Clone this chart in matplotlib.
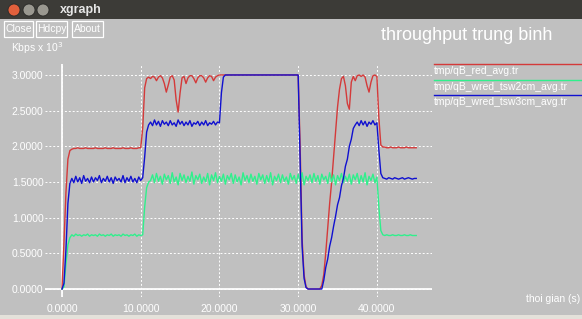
import matplotlib
matplotlib.use('Agg')
import matplotlib.pyplot as plt
from matplotlib.patches import Rectangle, Ellipse
from matplotlib.lines import Line2D

# time grid of the trace files (s), one sample every 0.25 s
time_s = [i * 0.25 for i in range(181)]

# throughput, Kbps x 10^3
red_avg = ([0.0, 0.65, 1.35, 1.82, 1.94]
           + [1.96, 1.97, 1.97, 1.98, 1.97, 1.97, 1.97, 1.98, 1.97, 1.97,
              1.97, 1.97, 1.98, 1.97, 1.97, 1.97, 1.97, 1.98, 1.97, 1.97,
              1.97, 1.98, 1.97, 1.97, 1.97, 1.97, 1.98, 1.97, 1.97, 1.97,
              1.98, 1.97, 1.97, 1.97, 1.98, 1.98]
           + [2.25, 2.82, 2.95, 2.97]
           + [2.95, 2.98, 2.97, 2.92, 2.97, 2.99, 2.96, 2.88, 2.76, 2.86,
              2.97, 2.99, 2.93, 2.65, 2.48, 2.75, 2.96, 2.98, 2.88, 2.96,
              2.99, 2.99, 2.95, 2.89, 2.96, 2.99, 2.99, 2.96, 2.90, 2.96,
              2.99, 2.98, 2.92, 2.97, 2.99, 3.00]
           + [3.0] * 40
           + [2.0, 0.7, 0.2, 0.03, 0.0, 0.0, 0.0, 0.0, 0.0, 0.0, 0.0, 0.05]
           + [0.2, 0.5, 0.85, 1.2, 1.5, 1.85, 2.2, 2.55, 2.8, 2.95,
              2.98, 2.85, 2.6, 2.52, 2.9, 2.98, 2.92, 2.99, 3.0, 2.98,
              3.0, 2.97, 2.85, 2.76, 2.9, 2.99, 3.0, 2.98, 2.4, 2.02,
              1.99]
           + [1.99, 1.98, 1.98, 1.99, 1.98, 1.98, 1.98, 1.99, 1.98, 1.98,
              1.98, 1.99, 1.98, 1.98, 1.98, 1.98, 1.98])

tsw2cm_avg = ([0.0, 0.03, 0.35, 0.62, 0.72]
              + [0.76, 0.74, 0.77, 0.75, 0.76, 0.74, 0.76, 0.75, 0.77, 0.74,
                 0.76, 0.75, 0.76, 0.74, 0.77, 0.75, 0.76, 0.74, 0.76, 0.75,
                 0.77, 0.74, 0.76, 0.75, 0.76, 0.74, 0.77, 0.75, 0.76, 0.74,
                 0.76, 0.75, 0.77, 0.74, 0.76, 0.75, 0.76]
              + [1.15, 1.42, 1.50]
              + [1.52, 1.60, 1.49, 1.62, 1.51, 1.58, 1.47, 1.61, 1.53, 1.59,
                 1.48, 1.63, 1.50, 1.57, 1.46, 1.62, 1.52, 1.60, 1.49, 1.58,
                 1.51, 1.64, 1.47, 1.59, 1.53, 1.61, 1.48, 1.57, 1.50, 1.62,
                 1.46, 1.60, 1.52, 1.63, 1.49, 1.58, 1.51, 1.61, 1.47, 1.59,
                 1.53, 1.62, 1.48, 1.60, 1.50, 1.57, 1.46, 1.63, 1.52, 1.59,
                 1.49, 1.61, 1.51, 1.58, 1.47, 1.62, 1.53, 1.60, 1.48, 1.59,
                 1.50, 1.63, 1.46, 1.58, 1.52, 1.61, 1.49, 1.60, 1.51, 1.57,
                 1.47, 1.62, 1.53, 1.59, 1.48, 1.61, 1.50, 1.63, 1.46, 1.58,
                 1.52, 1.60, 1.49, 1.62, 1.51, 1.59, 1.47, 1.61, 1.53, 1.58,
                 1.48, 1.63, 1.50, 1.60, 1.46, 1.59, 1.52, 1.62, 1.49, 1.58,
                 1.51, 1.61, 1.47, 1.60, 1.53, 1.62, 1.48, 1.59, 1.50, 1.63,
                 1.46, 1.58, 1.52, 1.61, 1.49, 1.57]
              + [1.15, 0.82, 0.76]
              + [0.75, 0.76, 0.75, 0.75, 0.76, 0.75, 0.75, 0.76, 0.75, 0.75,
                 0.76, 0.75, 0.75, 0.76, 0.75, 0.75, 0.75])

tsw3cm_avg = ([0.0, 0.08, 0.55, 1.2, 1.48]
              + [1.55, 1.49, 1.58, 1.50, 1.56, 1.48, 1.59, 1.51, 1.55, 1.49,
                 1.57, 1.50, 1.56, 1.52, 1.59, 1.49, 1.55, 1.51, 1.58, 1.50,
                 1.56, 1.48, 1.57, 1.52, 1.55, 1.50, 1.59, 1.49, 1.56, 1.51,
                 1.58, 1.50, 1.55, 1.49, 1.57, 1.52, 1.56]
              + [1.85, 2.2, 2.3]
              + [2.34, 2.29, 2.37, 2.30, 2.35, 2.28, 2.36, 2.31, 2.34, 2.29,
                 2.36, 2.30, 2.33, 2.28, 2.37, 2.31, 2.35, 2.29, 2.34, 2.30,
                 2.36, 2.28, 2.33, 2.31, 2.35, 2.29, 2.34, 2.30, 2.36, 2.29,
                 2.33, 2.31, 2.35, 2.30, 2.34]
              + [2.33, 2.75, 2.97]
              + [3.0] * 38
              + [1.8, 0.6, 0.15, 0.02, 0.0, 0.0, 0.0, 0.0, 0.0, 0.0, 0.0, 0.0]
              + [0.12, 0.3, 0.42, 0.6, 0.72, 0.88, 1.02, 1.18, 1.28, 1.45,
                 1.55, 1.72, 1.82, 2.0, 2.1, 2.25, 2.3]
              + [2.34, 2.29, 2.36, 2.30, 2.35, 2.28, 2.34, 2.31, 2.36, 2.30,
                 2.33]
              + [1.95, 1.62, 1.56]
              + [1.55, 1.54, 1.56, 1.55, 1.54, 1.56, 1.55, 1.54, 1.55, 1.56,
                 1.54, 1.55, 1.56, 1.55, 1.54, 1.55, 1.55])

series_names = ['tmp/qB_red_avg.tr', 'tmp/qB_wred_tsw2cm_avg.tr',
                'tmp/qB_wred_tsw3cm_avg.tr']
series_colors = ['#d43a3a', '#2ff08c', '#1010d0']
x_ticks = [0, 10, 20, 30, 40]
y_ticks = [0.0, 0.5, 1.0, 1.5, 2.0, 2.5, 3.0]

for s in (red_avg, tsw2cm_avg, tsw3cm_avg):
    assert len(s) == len(time_s), len(s)

W, H = 582, 319
BG = '#c0c0c0'
plt.rcParams['font.family'] = ['Liberation Sans', 'DejaVu Sans']

fig = plt.figure(figsize=(W / 100, H / 100), dpi=100, facecolor=BG)


def fx(px):
    return px / W


def fy(py):
    return 1 - py / H


# window title bar
fig.patches.append(Rectangle((0, fy(19)), 1, 19 / H, transform=fig.transFigure,
                             facecolor='#3c3b37', edgecolor='none', zorder=0))
for cx, col in [(14, '#e2603c'), (29, '#9a9890'), (43, '#9a9890')]:
    fig.patches.append(Ellipse((fx(cx), fy(10)), 12 / W, 12 / H,
                               transform=fig.transFigure,
                               facecolor=col, edgecolor='#2a2a28', lw=0.6))
fig.text(fx(60), fy(10), 'xgraph', color='#e6e6e6', fontsize=9, fontweight='bold',
         va='center', ha='left')

# bottom frame edge
fig.patches.append(Rectangle((0, 0), 1, 4 / H, transform=fig.transFigure,
                             facecolor='#e4e1da', edgecolor='none'))

# buttons
for x0, x1, label in [(4, 33, 'Close'), (36, 67, 'Hdcpy'), (72, 103, 'About')]:
    fig.patches.append(Rectangle((fx(x0), fy(37)), (x1 - x0) / W, 16 / H,
                                 transform=fig.transFigure, facecolor='none',
                                 edgecolor='white', lw=0.9))
    fig.text(fx((x0 + x1) / 2), fy(29), label, color='white', fontsize=7.5,
             ha='center', va='center')

fig.text(fx(11), fy(48), r'Kbps x 10$^3$', color='white', fontsize=7.5,
         va='center', ha='left')
fig.text(fx(381), fy(36), 'throughput trung binh', color='white', fontsize=13,
         va='center', ha='left')
fig.text(fx(580), fy(299), 'thoi gian (s)', color='white', fontsize=7.5,
         va='center', ha='right')

# legend
for k, (name, col) in enumerate(zip(series_names, series_colors)):
    ly = 64 + 15.5 * k
    fig.lines.append(Line2D([fx(434), fx(581)], [fy(ly), fy(ly)],
                            transform=fig.transFigure, color=col, lw=1.0))
    fig.text(fx(434), fy(ly + 7), name, color='white', fontsize=7.5,
             va='center', ha='left')

# plot area
ax = fig.add_axes([fx(45), fy(297), (432 - 45) / W, (297 - 64) / H])
ax.set_facecolor('none')
for sp in ax.spines.values():
    sp.set_visible(False)
ax.set_xlim(-2.16, 47.0)
ax.set_ylim(-0.112, 3.154)
ax.set_xticks(x_ticks)
ax.set_xticklabels(['%.4f' % v for v in x_ticks])
ax.set_yticks(y_ticks)
ax.set_yticklabels(['%.4f' % v for v in y_ticks])
ax.tick_params(length=0, colors='white', labelsize=7.5)
ax.tick_params(axis='x', pad=5)
ax.tick_params(axis='y', pad=1)
ax.grid(True, color='white', ls=(0, (2, 2)), lw=0.7)
ax.axhline(0, color='white', lw=1.3, zorder=1)
ax.axvline(0, color='white', lw=1.3, zorder=1)

for vals, col in zip([red_avg, tsw2cm_avg, tsw3cm_avg], series_colors):
    ax.plot(time_s, vals, color=col, lw=1.0, zorder=2)

fig.savefig('out.png', dpi=100, facecolor=BG)
